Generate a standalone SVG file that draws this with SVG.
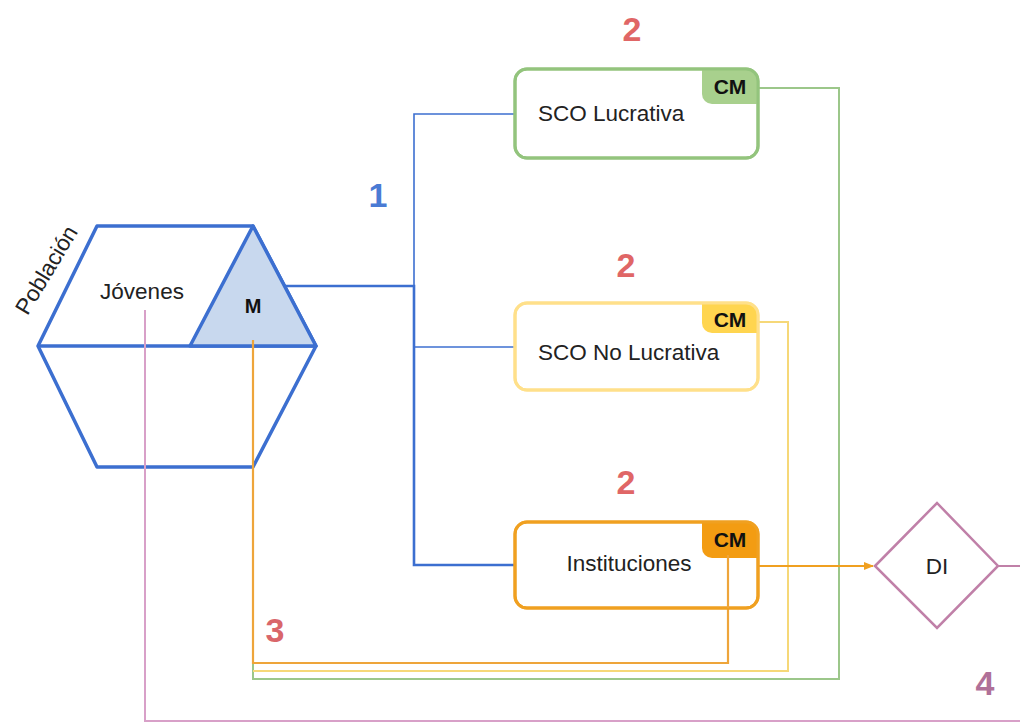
<svg xmlns="http://www.w3.org/2000/svg" width="1020" height="723" viewBox="0 0 1020 723">
<defs>
<style>
text{font-family:"Liberation Sans",Arial,sans-serif;}
.lbl{font-size:22.5px;fill:#222;}
.num{font-size:34px;font-weight:bold;}
.cm{font-size:21px;font-weight:bold;fill:#111;}
.blue{stroke:#3c6fd0;fill:none;}
</style>
<marker id="arrO" markerWidth="10" markerHeight="10" refX="9" refY="5" orient="auto" markerUnits="userSpaceOnUse">
<path d="M0,1 L10,5 L0,9 Z" fill="#f0a020"/>
</marker>
</defs>
<rect width="1020" height="723" fill="#fff"/>

<g id="poblacion">
<polygon points="97,226 253,226 316,346 253,467 97,467 38,346" fill="#fff" stroke="#3c6fd0" stroke-width="3.5" stroke-linejoin="round"/>
<line x1="38" y1="346" x2="316" y2="346" stroke="#3c6fd0" stroke-width="3.5"/>
<text class="lbl" x="142" y="299" text-anchor="middle">Jóvenes</text>
<text class="lbl" x="53" y="274" text-anchor="middle" transform="rotate(-59 53 274)">Población</text>
</g>

<g id="M">
<polygon points="253,226 316,346 190,346" fill="#c8d8ee" stroke="#3c6fd0" stroke-width="3.5" stroke-linejoin="round"/>
<text x="253" y="313" text-anchor="middle" font-size="20" font-weight="bold" fill="#111">M</text>
</g>

<g id="connectors" fill="none">
<path d="M145,310 V721 H1020" stroke="#d8a0c8" stroke-width="2"/>
<path d="M998,566 H1020" stroke="#c080a8" stroke-width="2"/>
<path d="M758,88 H839 V679 H253 V663" stroke="#9cc78a" stroke-width="2"/>
<path d="M758,322 H788 V671 H253" stroke="#f6d878" stroke-width="2"/>
<path d="M253,340 V663 H728 V555" stroke="#eea53a" stroke-width="2.2"/>
<path d="M758,566 H873" stroke="#f0a020" stroke-width="2.2" marker-end="url(#arrO)"/>
<path d="M414,286 V114 H515" class="blue" stroke-width="1.6"/>
<path d="M284,286 H414 V565 H515" class="blue" stroke-width="2.6"/>
<path d="M414,347 H515" class="blue" stroke-width="1.6"/>
</g>

<g id="sco-lucrativa">
<rect x="515" y="69" width="243" height="89" rx="12" fill="#fff" stroke="#93c47d" stroke-width="3"/>
<path d="M702,69 H746 A12,12 0 0 1 758,81 V104 H712 A10,10 0 0 1 702,94 Z" fill="#a8d08d"/>
<rect x="515" y="69" width="243" height="89" rx="12" fill="none" stroke="#93c47d" stroke-width="3"/>
<text class="cm" x="730" y="94" text-anchor="middle">CM</text>
<text class="lbl" x="538" y="121">SCO Lucrativa</text>
</g>

<g id="sco-no-lucrativa">
<rect x="515" y="303" width="243" height="87" rx="12" fill="#fff" stroke="#ffe08a" stroke-width="3"/>
<path d="M702,303 H746 A12,12 0 0 1 758,315 V333 H712 A10,10 0 0 1 702,323 Z" fill="#ffd54f"/>
<rect x="515" y="303" width="243" height="87" rx="12" fill="none" stroke="#ffe08a" stroke-width="3"/>
<text class="cm" x="730" y="327" text-anchor="middle">CM</text>
<text class="lbl" x="538" y="360">SCO No Lucrativa</text>
</g>

<g id="instituciones">
<rect x="515" y="522" width="243" height="86" rx="12" fill="#fff" stroke="#f0a020" stroke-width="3"/>
<path d="M702,522 H746 A12,12 0 0 1 758,534 V558 H712 A10,10 0 0 1 702,548 Z" fill="#f39c12"/>
<rect x="515" y="522" width="243" height="86" rx="12" fill="none" stroke="#f0a020" stroke-width="3"/>
<line x1="728" y1="555" x2="728" y2="608" stroke="#eea53a" stroke-width="2.2"/>
<text class="cm" x="730" y="547" text-anchor="middle">CM</text>
<text class="lbl" x="629" y="571" text-anchor="middle">Instituciones</text>
</g>

<g id="DI">
<polygon points="875,566 937,503 998,566 937,628" fill="#fff" stroke="#c080a8" stroke-width="2.5"/>
<text class="lbl" x="937" y="574" text-anchor="middle">DI</text>
</g>

<g id="labels">
<text class="num" x="632" y="41" text-anchor="middle" fill="#e06666">2</text>
<text class="num" x="626" y="277" text-anchor="middle" fill="#e06666">2</text>
<text class="num" x="626" y="494" text-anchor="middle" fill="#e06666">2</text>
<text class="num" x="378" y="207" text-anchor="middle" fill="#4a7bd4">1</text>
<text class="num" x="275" y="642" text-anchor="middle" fill="#d9666a">3</text>
<text class="num" x="985" y="695" text-anchor="middle" fill="#b07098">4</text>
</g>
</svg>
